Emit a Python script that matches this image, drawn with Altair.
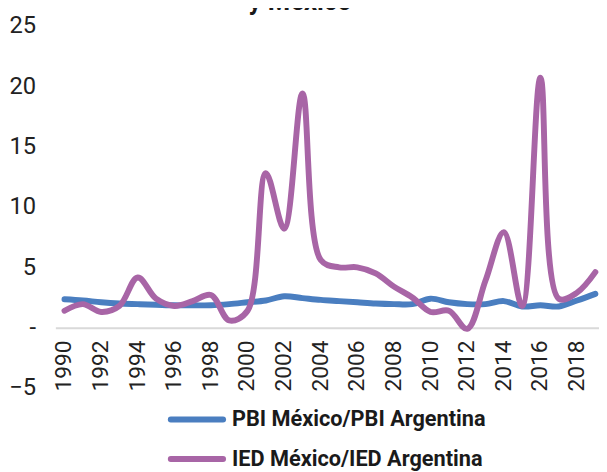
import altair as alt
import pandas as pd

years = list(range(1990, 2020))
pbi = [2.35, 2.25, 2.1, 2.0, 1.95, 1.9, 1.85, 1.85, 1.85, 1.95,
       2.1, 2.25, 2.6, 2.45, 2.3, 2.2, 2.1, 2.0, 1.95, 1.95,
       2.4, 2.1, 1.95, 1.95, 2.2, 1.75, 1.85, 1.75, 2.25, 2.8]
ied = [1.4, 1.95, 1.3, 1.8, 4.15, 2.4, 1.8, 2.2, 2.7, 0.6,
       1.4, 12.8, 8.2, 19.4, 5.6, 5.0, 5.0, 4.5, 3.4, 2.5,
       1.3, 1.4, -0.1, 3.9, 7.9, 1.8, 20.7, 2.4, 2.9, 4.6]
series_names = ["PBI México/PBI Argentina", "IED México/IED Argentina"]
series_colors = ["#4a7ec0", "#a865a6"]
x_ticks = list(range(1990, 2019, 2))
y_ticks = [-5, 0, 5, 10, 15, 20, 25]
title_text = "y México"

FONT = "Roboto, sans-serif"

rows = []
for name, vals in zip(series_names, [pbi, ied]):
    for y, v in zip(years, vals):
        rows.append({"year": y, "value": v, "serie": name})
df = pd.DataFrame(rows)
tick_df = pd.DataFrame({"year": x_ticks, "label": [str(t) for t in x_ticks]})
legend_df = pd.DataFrame({"serie": series_names})

color_enc = alt.Color("serie:N",
                      scale=alt.Scale(domain=series_names, range=series_colors),
                      legend=None)
x_scale = alt.Scale(domain=[1989.5, 2019.2], nice=False, zero=False)

lines = alt.Chart(df).mark_line(
    strokeWidth=6, interpolate="catmull-rom", strokeCap="round"
).encode(
    x=alt.X("year:Q", scale=x_scale,
            axis=alt.Axis(values=x_ticks, labels=False, title=None, ticks=False,
                          grid=False, offset=-61, domainColor="#d9d9d9",
                          domainWidth=2)),
    y=alt.Y("value:Q",
            scale=alt.Scale(domain=[-5, 25], nice=False),
            axis=alt.Axis(values=y_ticks, title=None, ticks=False, grid=False,
                          domain=False, labelFont=FONT, labelFontSize=24,
                          labelColor="#222222", labelPadding=20,
                          labelExpr="datum.value == 0 ? '-' : datum.label")),
    color=color_enc,
)

year_labels = alt.Chart(tick_df).mark_text(
    angle=270, align="right", baseline="middle", font=FONT, fontSize=23,
    color="#222222", yOffset=13
).encode(
    x=alt.X("year:Q", scale=x_scale),
    y=alt.datum(0),
    text="label:N",
)

main = alt.layer(lines, year_labels)

leg_y = alt.Y("serie:N", scale=alt.Scale(type="point", domain=series_names,
                                          range=[399, 439], padding=0),
              axis=None)
leg_rule = alt.Chart(legend_df).mark_rule(strokeWidth=6, strokeCap="round").encode(
    x=alt.value(117), x2=alt.value(170), y=leg_y, color=color_enc)
leg_text = alt.Chart(legend_df).mark_text(
    align="left", baseline="middle", font=FONT, fontSize=22, fontWeight="bold",
    color="#1a1a1a"
).encode(x=alt.value(179), y=leg_y, text="serie:N")
legend = alt.layer(leg_rule, leg_text)

title = alt.Chart(pd.DataFrame({"t": [title_text]})).mark_text(
    font=FONT, fontSize=26, fontWeight="bold", baseline="alphabetic",
    align="center", color="#1a1a1a"
).encode(text="t:N", x=alt.value(248), y=alt.value(-16))

chart = alt.layer(main, legend, title).resolve_scale(y="independent").properties(
    width=551, height=367,
    autosize=alt.AutoSizeParams(type="none"),
    padding={"left": 48, "top": 15, "right": 0, "bottom": 82},
).configure_view(stroke=None)

chart.save("out.html", embed_options={"renderer": "svg", "actions": False})
